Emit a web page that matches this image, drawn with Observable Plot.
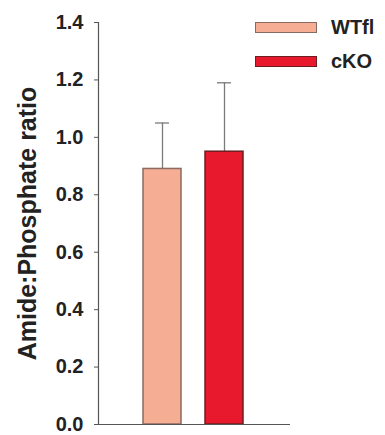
<!DOCTYPE html>
<html>
<head>
<meta charset="utf-8">
<script src="https://cdn.jsdelivr.net/npm/d3@7"></script>
<script src="https://cdn.jsdelivr.net/npm/@observablehq/plot@0.6"></script>
<style>
  html, body { margin: 0; padding: 0; background: #fff; }
  #wrap { position: relative; width: 385px; height: 435px; font-family: "Liberation Sans", Arial, sans-serif; }
  #legend { position: absolute; left: 255px; top: 10px; }
  .item { display: flex; align-items: center; height: 34px; }
  .sw { width: 60px; height: 9px; margin-right: 14px; }
  .lab { font-size: 20px; font-weight: bold; color: #222; }
</style>
</head>
<body>
<div id="wrap"></div>
<script>
const groups = ["WTfl", "cKO"];
const means = [0.89, 0.95];
const errors = [0.16, 0.24];
const fills = ["#f5ad94", "#e8192c"];
const strokes = ["#8a6a60", "#6b1e22"];
const yTicks = [0, 0.2, 0.4, 0.6, 0.8, 1.0, 1.2, 1.4];
const yLabel = "Amide:Phosphate ratio";

const data = groups.map((g, i) => ({group: g, mean: means[i], err: errors[i], top: means[i] + errors[i]}));

const chart = Plot.plot({
  width: 385,
  height: 435,
  marginTop: 22,
  marginBottom: 11,
  marginLeft: 98,
  marginRight: 95,
  style: {fontFamily: "'Liberation Sans', Arial, sans-serif", background: "#fff"},
  x: {domain: groups, range: [131, 255], paddingInner: 0.387, paddingOuter: 0.1935, axis: null},
  y: {domain: [0, 1.4]},
  color: {domain: groups, range: fills},
  marks: [
    Plot.ruleX(data, {x: "group", y1: "mean", y2: "top", stroke: "#7a7a7a", strokeWidth: 1.3}),
    Plot.tickY(data, {x: "group", y: "top", stroke: "#7a7a7a", strokeWidth: 1.3, insetLeft: 12, insetRight: 12}),
    Plot.barY(data, {x: "group", y: "mean", fill: "group", stroke: (d, i) => strokes[i], strokeWidth: 1.5}),
    Plot.ruleY([0], {stroke: "#555", strokeWidth: 1.2}),
    Plot.frame({anchor: "left", stroke: "#555", strokeWidth: 1.2}),
    Plot.axisY({ticks: yTicks, tickFormat: d3.format(".1f"), tickSize: 4, tickPadding: 11, fontSize: 20, fontWeight: "bold", fill: "#222", stroke: "#555", label: null}),
    Plot.axisY({ticks: [], label: yLabel, labelAnchor: "center", labelArrow: "none", labelOffset: 80, fontSize: 25, fontWeight: "bold", fill: "#222"})
  ]
});
const wrap = document.getElementById("wrap");
wrap.appendChild(chart);

const legend = document.createElement("div");
legend.id = "legend";
groups.forEach((g, i) => {
  const it = document.createElement("div");
  it.className = "item";
  const sw = document.createElement("div");
  sw.className = "sw";
  sw.style.background = fills[i];
  sw.style.border = "1.5px solid " + strokes[i];
  const lb = document.createElement("span");
  lb.className = "lab";
  lb.textContent = g;
  it.appendChild(sw); it.appendChild(lb);
  legend.appendChild(it);
});
wrap.appendChild(legend);
</script>
</body>
</html>
